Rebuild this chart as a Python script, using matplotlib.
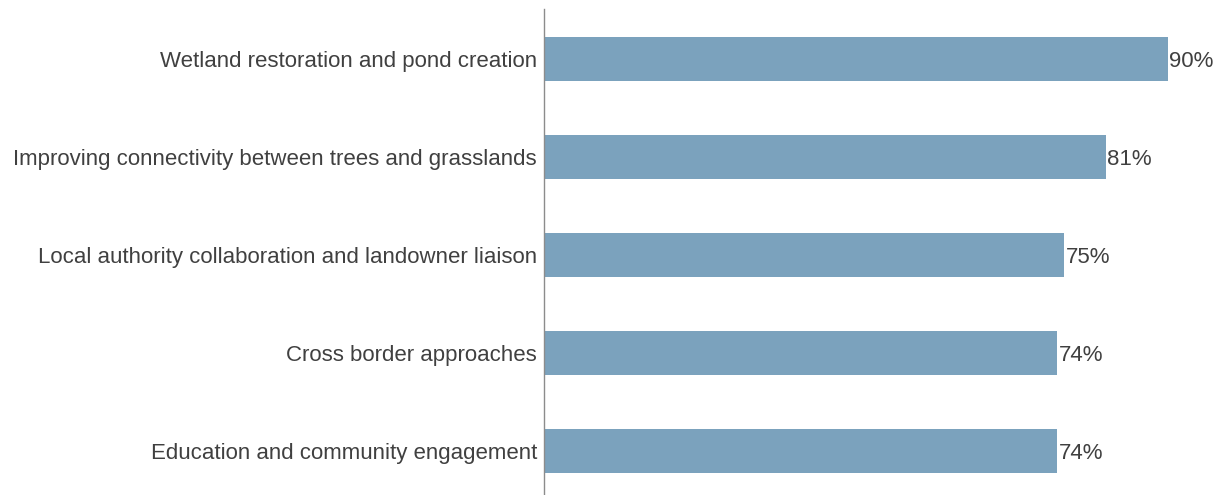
import matplotlib
matplotlib.use("Agg")
import matplotlib.pyplot as plt

categories = [
    "Wetland restoration and pond creation",
    "Improving connectivity between trees and grasslands",
    "Local authority collaboration and landowner liaison",
    "Cross border approaches",
    "Education and community engagement",
]
values = [90, 81, 75, 74, 74]

plt.rcParams["font.family"] = ["Liberation Sans", "DejaVu Sans"]

fig = plt.figure(figsize=(12.16, 4.95), dpi=100)
ax = fig.add_axes([544 / 1216, 1 / 495, 1 - 544 / 1216, 485 / 495])

pos = list(range(len(categories)))
bars = ax.barh(pos, values, height=0.45, color="#7ba2bd")

for b, v in zip(bars, values):
    ax.text(b.get_width() + 0.2, b.get_y() + b.get_height() / 2, f"{v}%",
            va="center_baseline", ha="left", fontsize=16, color="#404040")

ax.set_yticks(pos)
ax.set_yticklabels(categories, fontsize=16, color="#404040")
ax.set_ylim(4 + 43 / 98, -50 / 98)
ax.set_xlim(0, 672 / (624 / 90))
ax.tick_params(axis="y", length=0, pad=5)
ax.set_xticks([])
for s in ["top", "right", "bottom"]:
    ax.spines[s].set_visible(False)
ax.spines["left"].set_color("#8c8c8c")
ax.spines["left"].set_linewidth(1)

fig.savefig("out.png", dpi=100)
